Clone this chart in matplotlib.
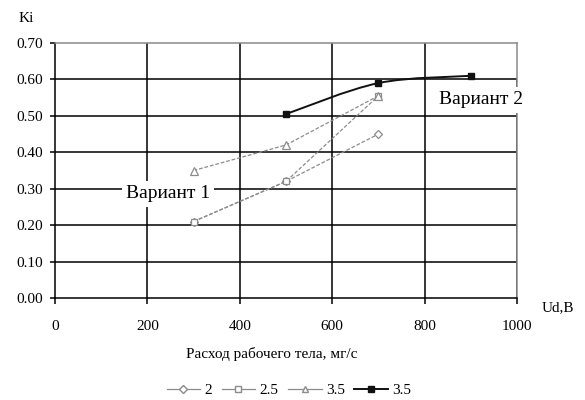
import numpy as np
import matplotlib.pyplot as plt
from matplotlib.path import Path
from matplotlib.patches import PathPatch
from matplotlib.lines import Line2D

plt.rcParams['font.family'] = ['Liberation Serif', 'DejaVu Serif']

# flow rate, mg/s and Ki for each discharge voltage
x_2 = [300, 500, 700]
ki_2 = [0.21, 0.32, 0.45]
x_25 = [300, 500, 700]
ki_25 = [0.21, 0.32, 0.555]
x_35a = [300, 500, 700]
ki_35a = [0.35, 0.42, 0.555]
x_35b = [500, 700, 900]
ki_35b = [0.505, 0.59, 0.61]

labels = ['2', '2.5', '3.5', '3.5']
xticks = [0, 200, 400, 600, 800, 1000]
yticks = [0.0, 0.1, 0.2, 0.3, 0.4, 0.5, 0.6, 0.7]


def smooth_path(xs, ys):
    # catmull-rom style bezier through the points (like a smoothed excel line)
    pts = np.column_stack([xs, ys]).astype(float)
    ext = np.vstack([pts[0], pts, pts[-1]])
    verts = [pts[0]]
    codes = [Path.MOVETO]
    for i in range(len(pts) - 1):
        p0, p1, p2, p3 = ext[i], ext[i + 1], ext[i + 2], ext[i + 3]
        verts += [p1 + (p2 - p0) / 6, p2 - (p3 - p1) / 6, p2]
        codes += [Path.CURVE4] * 3
    return Path(verts, codes)


fig = plt.figure(figsize=(5.85, 4.0), dpi=100)
ax = fig.add_axes([55 / 585, 102 / 400, 462 / 585, 255 / 400])

ax.set_xlim(0, 1000)
ax.set_ylim(0, 0.7)
ax.set_xticks(xticks)
ax.set_yticks(yticks)
ax.set_xticklabels([str(t) for t in xticks])
ax.set_yticklabels(['%.2f' % t for t in yticks])
ax.tick_params(axis='x', length=4.5, width=1.1, pad=11, labelsize=11)
ax.tick_params(axis='y', length=3.6, width=1.1, pad=5, labelsize=11)

for v in xticks[1:-1]:
    ax.axvline(v, color='black', lw=1.1, zorder=1)
for h in yticks[1:-1]:
    ax.axhline(h, color='black', lw=1.1, zorder=1)
ax.axvline(1000, ymax=0.6 / 0.7, color='black', lw=1.1, zorder=1)

for s in ['left', 'bottom']:
    ax.spines[s].set_linewidth(1.1)
for s in ['top', 'right']:
    ax.spines[s].set_color('#8a8a8a')
    ax.spines[s].set_linewidth(1.1)

gray = '#8c8c8c'
dash = (0, (3, 1.5))
ax.plot(x_2, ki_2, color=gray, lw=0.9, ls=dash, marker='D', ms=4.5,
        mfc='white', mec=gray, mew=0.9, zorder=3)
ax.plot(x_25, ki_25, color=gray, lw=0.9, ls=dash, marker='s', ms=5,
        mfc='white', mec=gray, mew=0.9, zorder=3)
ax.plot(x_35a, ki_35a, color=gray, lw=0.9, ls=dash, marker='^', ms=6,
        mfc='white', mec=gray, mew=0.9, zorder=3)

ax.add_patch(PathPatch(smooth_path(x_35b, ki_35b), fc='none', ec='#111111',
                       lw=1.4, zorder=4))
ax.plot(x_35b, ki_35b, ls='none', marker='s', ms=5, color='#111111', zorder=5)

# variant captions on white boxes over the grid
serif = ['Liberation Serif', 'DejaVu Serif']
fig.text(168 / 585, 1 - 194 / 400, 'Вариант 1', fontsize=14, family=serif,
         ha='center', va='center', zorder=6,
         bbox=dict(fc='white', ec='none', pad=3))
fig.text(481 / 585, 1 - 100 / 400, 'Вариант 2', fontsize=14, family=serif,
         ha='center', va='center', zorder=6,
         bbox=dict(fc='white', ec='none', pad=3))

fig.text(26 / 585, 1 - 18 / 400, 'Ki', fontsize=11, ha='center', va='center')
fig.text(558 / 585, 1 - 308 / 400, 'Ud,B', fontsize=11, ha='center', va='center')
fig.text(272 / 585, 1 - 354 / 400, 'Расход рабочего тела, мг/с', fontsize=11,
         family=serif, ha='center', va='center')

handles = [
    Line2D([], [], color=gray, lw=0.9, marker='D', ms=4, mfc='white', mec=gray),
    Line2D([], [], color=gray, lw=0.9, marker='s', ms=4.5, mfc='white', mec=gray),
    Line2D([], [], color=gray, lw=0.9, marker='^', ms=5, mfc='white', mec=gray),
    Line2D([], [], color='#111111', lw=1.4, marker='s', ms=4.5),
]
fig.legend(handles, labels, loc='center', bbox_to_anchor=(289 / 585, 1 - 390 / 400),
           ncol=4, frameon=False, fontsize=11, handlelength=2.2,
           handletextpad=0.3, columnspacing=0.6)

fig.savefig('out.png', dpi=100)
